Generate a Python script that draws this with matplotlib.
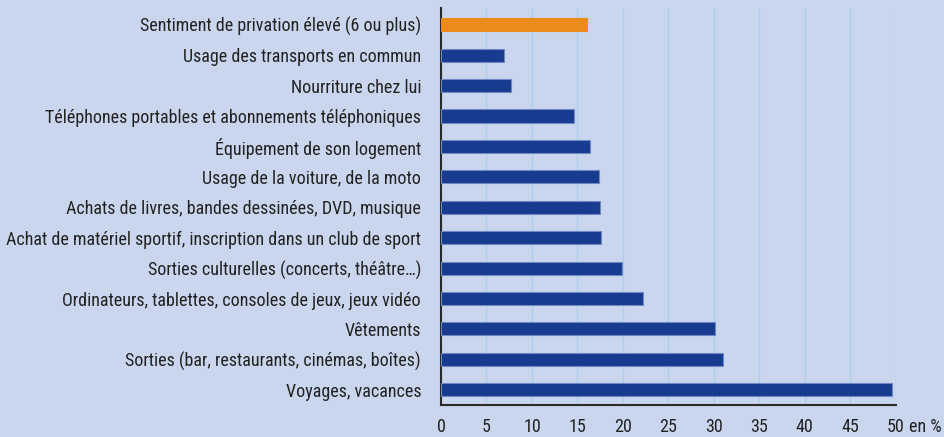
import matplotlib
matplotlib.use("Agg")
import matplotlib.pyplot as plt
from matplotlib import font_manager

categories = [
    "Sentiment de privation élevé (6 ou plus)",
    "Usage des transports en commun",
    "Nourriture chez lui",
    "Téléphones portables et abonnements téléphoniques",
    "Équipement de son logement",
    "Usage de la voiture, de la moto",
    "Achats de livres, bandes dessinées, DVD, musique",
    "Achat de matériel sportif, inscription dans un club de sport",
    "Sorties culturelles (concerts, théâtre…)",
    "Ordinateurs, tablettes, consoles de jeux, jeux vidéo",
    "Vêtements",
    "Sorties (bar, restaurants, cinémas, boîtes)",
    "Voyages, vacances",
]
values = [16.0, 6.9, 7.7, 14.6, 16.4, 17.4, 17.5, 17.6, 19.9, 22.2, 30.1, 31.0, 49.6]
xticks = [0, 5, 10, 15, 20, 25, 30, 35, 40, 45, 50]

names = sorted({f.name for f in font_manager.fontManager.ttflist})
cands = ["Liberation Sans Narrow", "DejaVu Sans Condensed", "Roboto Condensed",
         "Open Sans Condensed", "Noto Sans Condensed", "Arial Narrow"]
fam = next((c for c in cands if c in names), None)
stretch = "normal"
if fam is None:
    fam = "Roboto" if "Roboto" in names else "DejaVu Sans"
    stretch = "condensed"
plt.rcParams['font.family'] = [fam, 'DejaVu Sans']

bg = "#cad6ed"
fig = plt.figure(figsize=(9.45, 4.37), dpi=100, facecolor=bg)

# font size so the longest label is ~413 px wide
r = fig.canvas.get_renderer()
t = fig.text(0, 0, categories[7], fontsize=10, fontstretch=stretch)
w10 = t.get_window_extent(renderer=r).width
t.remove()
fs = min(15, 10 * 413.0 / w10)

ax = fig.add_axes([0.4667, 0.0732, 0.4811, 0.9085], facecolor=bg)

n = len(categories)
ypos = [n - 1 - i for i in range(n)]
colors = ["#ec8b1a"] + ["#173c8f"] * (n - 1)
edges = ["#ec8b1a"] + ["#6f87c2"] * (n - 1)
ax.barh(ypos, values, height=0.43, color=colors, edgecolor=edges, linewidth=0.8, zorder=3)

ax.set_xlim(0, 50)
ax.set_ylim(-0.5, 12.55)
ax.set_xticks(xticks)
ax.set_xticklabels([str(t) for t in xticks], fontsize=fs, color="#222222", fontstretch=stretch)
ax.set_yticks(ypos)
ax.set_yticklabels(categories, fontsize=fs, color="#222222", fontstretch=stretch)
ax.tick_params(length=0, pad=14.4)
ax.tick_params(axis='x', pad=9.5)
ax.grid(axis='x', color="#a9d0ee", linewidth=1.0, zorder=0)
ax.set_axisbelow(True)
for s in ["top", "right"]:
    ax.spines[s].set_visible(False)
ax.spines["left"].set_color("#2a2a2a")
ax.spines["bottom"].set_color("#2a2a2a")
ax.spines["left"].set_linewidth(1.5)
ax.spines["bottom"].set_linewidth(1.5)

fig.canvas.draw()
last = ax.get_xticklabels()[-1]
ext = last.get_window_extent(renderer=fig.canvas.get_renderer())
fig.text((ext.x1 + 4) / fig.bbox.width, ext.y0 / fig.bbox.height, "en %",
         ha="left", va="bottom", fontsize=fs, color="#222222", fontstretch=stretch)

fig.savefig("out.png", dpi=100, facecolor=bg)
